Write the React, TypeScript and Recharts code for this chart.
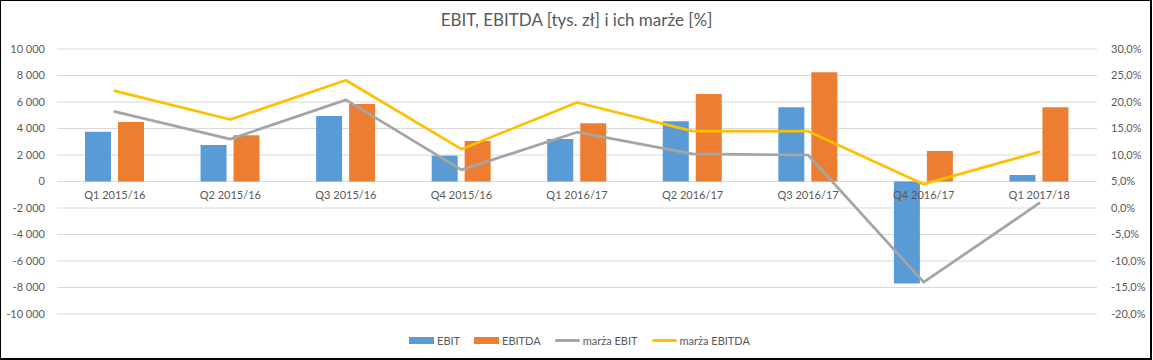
import React from "react";
import {
  ComposedChart,
  Bar,
  Line,
  XAxis,
  YAxis,
  CartesianGrid,
  Legend,
} from "recharts";

const categories = [
  "Q1 2015/16",
  "Q2 2015/16",
  "Q3 2015/16",
  "Q4 2015/16",
  "Q1 2016/17",
  "Q2 2016/17",
  "Q3 2016/17",
  "Q4 2016/17",
  "Q1 2017/18",
];
const ebit = [3750, 2750, 4950, 1950, 3200, 4550, 5600, -7700, 500];
const ebitda = [4500, 3500, 5850, 3050, 4400, 6600, 8250, 2300, 5600];
const marzaEbit = [18.2, 13.0, 20.4, 7.2, 14.3, 10.2, 10.0, -14.0, 0.9];
const marzaEbitda = [22.1, 16.7, 24.1, 11.1, 19.9, 14.5, 14.5, 4.5, 10.6];

const leftTicks = [-10000, -8000, -6000, -4000, -2000, 0, 2000, 4000, 6000, 8000, 10000];
const rightTicks = [-20, -15, -10, -5, 0, 5, 10, 15, 20, 25, 30];

const data = categories.map((c, i) => ({
  name: c,
  ebit: ebit[i],
  ebitda: ebitda[i],
  mEbit: marzaEbit[i],
  mEbitda: marzaEbitda[i],
}));

const W = 1153;
const H = 360;
const TOP = 49;
const PLOT_H = 265;
const LEFT_MIN = -10000;
const LEFT_MAX = 10000;
const ZERO_Y = TOP + (PLOT_H * LEFT_MAX) / (LEFT_MAX - LEFT_MIN);

const FONT = "Lato, 'Open Sans', sans-serif";
const TXT = "#595959";

const fmtLeft = (v: number) => {
  const s = Math.abs(v).toString().replace(/\B(?=(\d{3})+(?!\d))/g, " ");
  return (v < 0 ? "-" : "") + s;
};
const fmtRight = (v: number) => v.toFixed(1).replace(".", ",") + "%";

const CatTick = (props: any) => {
  const { x, payload } = props;
  return (
    <text
      x={x}
      y={ZERO_Y + 17.5}
      textAnchor="middle"
      fill={TXT}
      fontSize={11}
      fontFamily={FONT}
    >
      {payload.value}
    </text>
  );
};

const legendItems = [
  { label: "EBIT", color: "#5B9BD5", kind: "rect" },
  { label: "EBITDA", color: "#ED7D31", kind: "rect" },
  { label: "marża EBIT", color: "#A5A5A5", kind: "line" },
  { label: "marża EBITDA", color: "#FFC000", kind: "line" },
];

const LegendContent = () => (
  <div
    style={{
      height: 20,
      display: "flex",
      justifyContent: "center",
      alignItems: "center",
      fontFamily: FONT,
      fontSize: 11,
      color: TXT,
      paddingLeft: 6,
    }}
  >
    {legendItems.map((it, i) => (
      <div
        key={it.label}
        style={{
          display: "flex",
          alignItems: "center",
          marginRight: i === legendItems.length - 1 ? 0 : 14,
        }}
      >
        <div
          style={{
            width: 25,
            height: it.kind === "rect" ? 7 : 3,
            background: it.color,
            marginRight: 3,
            borderRadius: it.kind === "line" ? 1.5 : 0,
          }}
        />
        <span>{it.label}</span>
      </div>
    ))}
  </div>
);

export default function App() {
  return (
    <div style={{ position: "relative", width: W, height: H, background: "#fff" }}>
      <style>{`body{margin:0;}`}</style>
      <div
        style={{
          position: "absolute",
          left: 0,
          top: 0,
          width: 1152,
          height: 360,
          boxSizing: "border-box",
          borderTop: "1px solid #000",
          borderLeft: "1px solid #000",
          borderRight: "2px solid #000",
          borderBottom: "2px solid #000",
          pointerEvents: "none",
          zIndex: 2,
        }}
      />
      <div
        style={{
          position: "absolute",
          left: 0,
          top: 8,
          width: W,
          textAlign: "center",
          fontFamily: FONT,
          fontSize: 17,
          color: TXT,
          lineHeight: "24px",
        }}
      >
        EBIT, EBITDA [tys. zł] i ich marże [%]
      </div>
      <ComposedChart
        width={W}
        height={H}
        data={data}
        margin={{ top: TOP, right: 0, bottom: 10, left: 0 }}
        barGap={7}
        barCategoryGap="24%"
      >
        <CartesianGrid
          vertical={false}
          stroke="#D9D9D9"
          strokeWidth={1}
          yAxisId="left"
        />
        <XAxis
          dataKey="name"
          axisLine={false}
          tickLine={false}
          height={16}
          tick={<CatTick />}
          interval={0}
        />
        <YAxis
          yAxisId="left"
          orientation="left"
          width={57}
          domain={[LEFT_MIN, LEFT_MAX]}
          ticks={leftTicks}
          tickFormatter={fmtLeft}
          axisLine={false}
          tickLine={false}
          tickSize={0}
          tickMargin={12}
          tick={{ fill: TXT, fontSize: 11, fontFamily: FONT }}
          interval={0}
        />
        <YAxis
          yAxisId="right"
          orientation="right"
          width={56}
          domain={[-20, 30]}
          ticks={rightTicks}
          tickFormatter={fmtRight}
          axisLine={false}
          tickLine={false}
          tickSize={0}
          tickMargin={14}
          tick={{ fill: TXT, fontSize: 11, fontFamily: FONT, textAnchor: "start" }}
          interval={0}
        />
        <Legend verticalAlign="bottom" content={<LegendContent />} />
        <Bar yAxisId="left" dataKey="ebit" name="EBIT" fill="#5B9BD5" barSize={26} isAnimationActive={false} />
        <Bar yAxisId="left" dataKey="ebitda" name="EBITDA" fill="#ED7D31" barSize={26} isAnimationActive={false} />
        <Line
          yAxisId="right"
          type="linear"
          dataKey="mEbit"
          name="marża EBIT"
          stroke="#A5A5A5"
          strokeWidth={2.75}
          dot={false}
          strokeLinejoin="round"
          strokeLinecap="round"
          isAnimationActive={false}
        />
        <Line
          yAxisId="right"
          type="linear"
          dataKey="mEbitda"
          name="marża EBITDA"
          stroke="#FFC000"
          strokeWidth={2.75}
          dot={false}
          strokeLinejoin="round"
          strokeLinecap="round"
          isAnimationActive={false}
        />
      </ComposedChart>
    </div>
  );
}
